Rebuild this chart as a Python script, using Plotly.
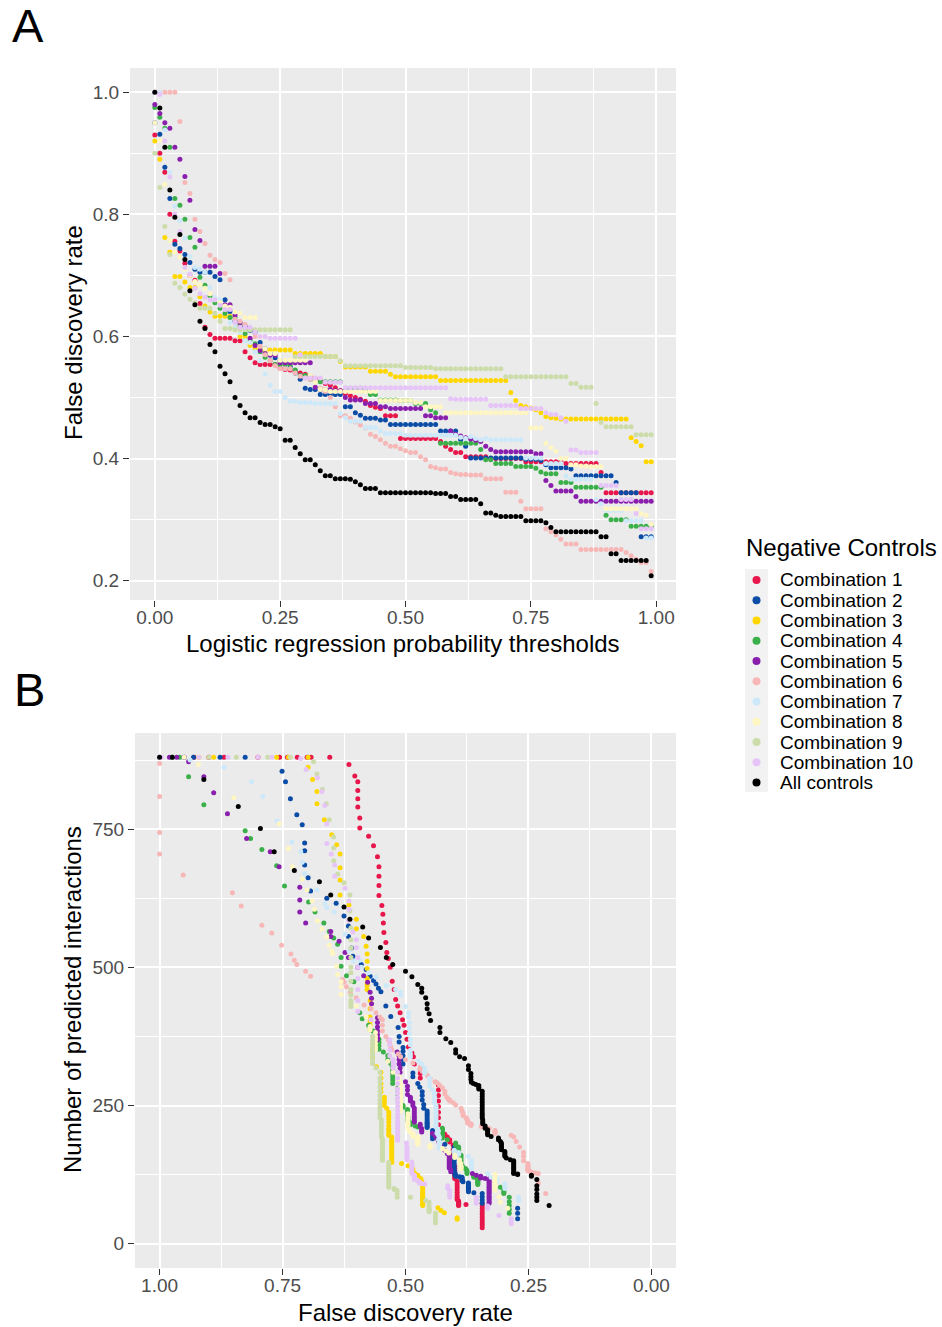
import plotly.graph_objects as go

W, H = 942, 1327

thresholds = [
0.00, 0.01, 0.02, 0.03, 0.04, 0.05, 0.06, 0.07, 0.08, 0.09,
0.10, 0.11, 0.12, 0.13, 0.14, 0.15, 0.16, 0.17, 0.18, 0.19,
0.20, 0.21, 0.22, 0.23, 0.24, 0.25, 0.26, 0.27, 0.28, 0.29,
0.30, 0.31, 0.32, 0.33, 0.34, 0.35, 0.36, 0.37, 0.38, 0.39,
0.40, 0.41, 0.42, 0.43, 0.44, 0.45, 0.46, 0.47, 0.48, 0.49,
0.50, 0.51, 0.52, 0.53, 0.54, 0.55, 0.56, 0.57, 0.58, 0.59,
0.60, 0.61, 0.62, 0.63, 0.64, 0.65, 0.66, 0.67, 0.68, 0.69,
0.70, 0.71, 0.72, 0.73, 0.74, 0.75, 0.76, 0.77, 0.78, 0.79,
0.80, 0.81, 0.82, 0.83, 0.84, 0.85, 0.86, 0.87, 0.88, 0.89,
0.90, 0.91, 0.92, 0.93, 0.94, 0.95, 0.96, 0.97, 0.98, 0.99]

labels = ["Combination 1", "Combination 2", "Combination 3", "Combination 4",
          "Combination 5", "Combination 6", "Combination 7", "Combination 8",
          "Combination 9", "Combination 10", "All controls"]

colors = ["#E8174B", "#0A4CA6", "#FFD700", "#3BB04A", "#8A1FAD", "#F7B7B7",
          "#CDE9F9", "#FFF6C2", "#CCDCAA", "#E6C4F8", "#000000"]

# ---- False discovery rate at each threshold ----
fdr_comb1 = [
0.93, 0.90, 0.869, 0.80, 0.756, 0.74, 0.72, 0.70, 0.692, 0.654,
0.615, 0.603, 0.597, 0.597, 0.597, 0.597, 0.593, 0.593, 0.575, 0.565,
0.557, 0.554, 0.554, 0.554, 0.554, 0.548, 0.546, 0.545, 0.544, 0.54,
0.538, 0.535, 0.531, 0.527, 0.523, 0.52, 0.516, 0.511, 0.506, 0.503,
0.50, 0.497, 0.494, 0.487, 0.484, 0.482, 0.47, 0.47, 0.47, 0.433,
0.433, 0.433, 0.433, 0.433, 0.433, 0.433, 0.433, 0.428, 0.42, 0.415,
0.41, 0.41, 0.403, 0.403, 0.403, 0.403, 0.403, 0.40, 0.40, 0.40,
0.40, 0.40, 0.40, 0.40, 0.395, 0.395, 0.395, 0.395, 0.395, 0.395,
0.395, 0.395, 0.392, 0.392, 0.392, 0.392, 0.392, 0.392, 0.392, 0.377,
0.344, 0.344, 0.344, 0.344, 0.344, 0.344, 0.344, 0.344, 0.344, 0.344]

fdr_comb2 = [
0.95, 0.931, 0.877, 0.826, 0.751, 0.744, 0.734, 0.721, 0.71, 0.705,
0.705, 0.705, 0.698, 0.693, 0.66, 0.641, 0.625, 0.616, 0.616, 0.61,
0.607, 0.59, 0.58, 0.572, 0.565, 0.56, 0.555, 0.55, 0.54, 0.53,
0.515, 0.513, 0.513, 0.505, 0.505, 0.505, 0.505, 0.505, 0.485, 0.485,
0.475, 0.471, 0.466, 0.466, 0.466, 0.463, 0.463, 0.456, 0.456, 0.456,
0.456, 0.456, 0.456, 0.456, 0.456, 0.456, 0.456, 0.445, 0.445, 0.445,
0.445, 0.431, 0.42, 0.401, 0.401, 0.401, 0.401, 0.401, 0.401, 0.401,
0.401, 0.401, 0.401, 0.401, 0.399, 0.399, 0.399, 0.397, 0.39, 0.385,
0.385, 0.385, 0.385, 0.383, 0.372, 0.372, 0.372, 0.372, 0.372, 0.372,
0.372, 0.372, 0.361, 0.344, 0.344, 0.344, 0.344, 0.272, 0.272, 0.272]

fdr_comb3 = [
0.92, 0.89, 0.762, 0.738, 0.698, 0.698, 0.689, 0.68, 0.68, 0.665,
0.65, 0.64, 0.633, 0.633, 0.633, 0.633, 0.615, 0.60, 0.60, 0.585,
0.58, 0.578, 0.578, 0.578, 0.578, 0.578, 0.578, 0.578, 0.572, 0.572,
0.572, 0.572, 0.572, 0.572, 0.567, 0.567, 0.567, 0.559, 0.55, 0.55,
0.55, 0.55, 0.55, 0.543, 0.543, 0.543, 0.543, 0.538, 0.534, 0.534,
0.534, 0.534, 0.534, 0.534, 0.534, 0.534, 0.534, 0.528, 0.528, 0.528,
0.528, 0.528, 0.528, 0.528, 0.528, 0.528, 0.528, 0.528, 0.528, 0.528,
0.528, 0.508, 0.495, 0.487, 0.485, 0.483, 0.48, 0.475, 0.469, 0.467,
0.466, 0.465, 0.465, 0.465, 0.465, 0.465, 0.465, 0.465, 0.465, 0.465,
0.465, 0.465, 0.465, 0.465, 0.465, 0.434, 0.428, 0.421, 0.395, 0.395]

fdr_comb4 = [
0.975, 0.959, 0.941, 0.91, 0.826, 0.815, 0.792, 0.762, 0.746, 0.697,
0.684, 0.666, 0.655, 0.646, 0.638, 0.631, 0.631, 0.62, 0.605, 0.593,
0.588, 0.575, 0.566, 0.56, 0.554, 0.554, 0.554, 0.554, 0.545, 0.536,
0.536, 0.53, 0.526, 0.526, 0.526, 0.526, 0.526, 0.526, 0.515, 0.515,
0.515, 0.515, 0.511, 0.505, 0.505, 0.496, 0.496, 0.496, 0.496, 0.495,
0.495, 0.495, 0.49, 0.49, 0.49, 0.48, 0.475, 0.425, 0.425, 0.425,
0.425, 0.425, 0.425, 0.425, 0.425, 0.415, 0.398, 0.398, 0.392, 0.392,
0.392, 0.392, 0.387, 0.387, 0.387, 0.387, 0.384, 0.378, 0.375, 0.375,
0.375, 0.361, 0.361, 0.361, 0.353, 0.353, 0.353, 0.353, 0.353, 0.353,
0.307, 0.30, 0.30, 0.30, 0.30, 0.289, 0.289, 0.289, 0.289, 0.289]

fdr_comb5 = [
0.98, 0.965, 0.95, 0.941, 0.91, 0.89, 0.862, 0.823, 0.775, 0.757,
0.715, 0.715, 0.715, 0.703, 0.652, 0.652, 0.635, 0.623, 0.616, 0.597,
0.585, 0.577, 0.572, 0.569, 0.569, 0.557, 0.557, 0.557, 0.557, 0.557,
0.557, 0.557, 0.517, 0.513, 0.513, 0.513, 0.511, 0.511, 0.50, 0.496,
0.496, 0.496, 0.49, 0.49, 0.49, 0.485, 0.485, 0.482, 0.482, 0.482,
0.482, 0.482, 0.482, 0.482, 0.47, 0.47, 0.467, 0.467, 0.467, 0.445,
0.44, 0.437, 0.434, 0.432, 0.43, 0.428, 0.42, 0.415, 0.411, 0.411,
0.411, 0.411, 0.411, 0.411, 0.411, 0.411, 0.408, 0.408, 0.364, 0.356,
0.347, 0.347, 0.347, 0.347, 0.338, 0.33, 0.33, 0.33, 0.33, 0.33,
0.33, 0.33, 0.33, 0.33, 0.33, 0.33, 0.33, 0.33, 0.33, 0.33]

fdr_comb6 = [
1.0, 1.0, 1.0, 1.0, 1.0, 0.952, 0.852, 0.834, 0.792, 0.772,
0.752, 0.733, 0.726, 0.721, 0.703, 0.693, 0.628, 0.625, 0.62, 0.612,
0.60, 0.584, 0.57, 0.56, 0.552, 0.547, 0.547, 0.547, 0.54, 0.535,
0.532, 0.53, 0.528, 0.515, 0.51, 0.50, 0.485, 0.47, 0.47, 0.466,
0.46, 0.455, 0.45, 0.44, 0.436, 0.431, 0.425, 0.42, 0.42, 0.416,
0.413, 0.41, 0.41, 0.403, 0.398, 0.387, 0.385, 0.383, 0.383, 0.377,
0.375, 0.374, 0.374, 0.373, 0.373, 0.373, 0.367, 0.367, 0.367, 0.367,
0.345, 0.345, 0.345, 0.33, 0.318, 0.318, 0.318, 0.318, 0.285, 0.28,
0.275, 0.268, 0.26, 0.26, 0.26, 0.251, 0.251, 0.251, 0.251, 0.251,
0.251, 0.251, 0.251, 0.251, 0.246, 0.241, 0.235, 0.23, 0.23, 0.215]

fdr_comb7 = [
1.0, 1.0, 0.938, 0.869, 0.813, 0.79, 0.761, 0.731, 0.713, 0.71,
0.705, 0.68, 0.664, 0.66, 0.645, 0.623, 0.615, 0.606, 0.593, 0.59,
0.575, 0.56, 0.539, 0.52, 0.51, 0.51, 0.50, 0.494, 0.494, 0.492,
0.492, 0.492, 0.49, 0.49, 0.49, 0.49, 0.49, 0.474, 0.467, 0.461,
0.461, 0.461, 0.451, 0.451, 0.451, 0.445, 0.441, 0.441, 0.441, 0.441,
0.438, 0.438, 0.438, 0.438, 0.438, 0.438, 0.438, 0.438, 0.438, 0.438,
0.438, 0.435, 0.433, 0.436, 0.433, 0.431, 0.433, 0.431, 0.431, 0.431,
0.431, 0.431, 0.431, 0.431, 0.401, 0.401, 0.401, 0.401, 0.392, 0.392,
0.392, 0.392, 0.372, 0.366, 0.366, 0.366, 0.366, 0.366, 0.333, 0.326,
0.315, 0.315, 0.315, 0.315, 0.298, 0.298, 0.298, 0.298, 0.27, 0.27]

fdr_comb8 = [
0.95, 0.921, 0.849, 0.757, 0.738, 0.73, 0.71, 0.70, 0.69, 0.685,
0.679, 0.67, 0.66, 0.655, 0.65, 0.648, 0.64, 0.638, 0.631, 0.631,
0.631, 0.60, 0.58, 0.572, 0.572, 0.561, 0.561, 0.561, 0.561, 0.561,
0.561, 0.536, 0.525, 0.513, 0.513, 0.51, 0.51, 0.51, 0.51, 0.51,
0.51, 0.51, 0.51, 0.51, 0.51, 0.495, 0.495, 0.495, 0.495, 0.495,
0.495, 0.495, 0.492, 0.492, 0.485, 0.485, 0.485, 0.485, 0.475, 0.475,
0.475, 0.475, 0.475, 0.475, 0.475, 0.475, 0.475, 0.475, 0.475, 0.475,
0.475, 0.475, 0.475, 0.475, 0.475, 0.45, 0.45, 0.45, 0.425, 0.418,
0.412, 0.40, 0.40, 0.39, 0.39, 0.388, 0.388, 0.387, 0.387, 0.387,
0.318, 0.318, 0.318, 0.318, 0.318, 0.318, 0.318, 0.31, 0.307, 0.292]

fdr_comb9 = [
0.90, 0.844, 0.78, 0.734, 0.687, 0.68, 0.669, 0.661, 0.655, 0.646,
0.646, 0.646, 0.638, 0.625, 0.613, 0.613, 0.611, 0.611, 0.611, 0.611,
0.611, 0.611, 0.611, 0.611, 0.611, 0.611, 0.611, 0.611, 0.567, 0.567,
0.567, 0.567, 0.567, 0.567, 0.567, 0.567, 0.567, 0.56, 0.552, 0.552,
0.552, 0.552, 0.552, 0.552, 0.552, 0.552, 0.552, 0.552, 0.552, 0.552,
0.549, 0.549, 0.549, 0.549, 0.549, 0.549, 0.547, 0.547, 0.547, 0.547,
0.547, 0.547, 0.547, 0.547, 0.547, 0.547, 0.547, 0.547, 0.547, 0.547,
0.534, 0.534, 0.534, 0.534, 0.534, 0.534, 0.534, 0.534, 0.534, 0.534,
0.534, 0.534, 0.534, 0.523, 0.523, 0.517, 0.517, 0.517, 0.49, 0.459,
0.452, 0.452, 0.452, 0.452, 0.452, 0.452, 0.439, 0.439, 0.439, 0.439]

fdr_comb10 = [
1.0, 0.996, 0.92, 0.861, 0.80, 0.772, 0.713, 0.702, 0.679, 0.67,
0.664, 0.66, 0.66, 0.651, 0.644, 0.644, 0.623, 0.615, 0.615, 0.615,
0.607, 0.60, 0.60, 0.597, 0.597, 0.597, 0.597, 0.597, 0.597, 0.57,
0.532, 0.532, 0.532, 0.532, 0.525, 0.525, 0.525, 0.525, 0.516, 0.516,
0.516, 0.516, 0.516, 0.516, 0.516, 0.516, 0.516, 0.516, 0.516, 0.516,
0.516, 0.516, 0.516, 0.516, 0.516, 0.516, 0.516, 0.516, 0.516, 0.498,
0.497, 0.497, 0.497, 0.497, 0.497, 0.497, 0.497, 0.487, 0.487, 0.487,
0.487, 0.487, 0.487, 0.482, 0.482, 0.482, 0.482, 0.482, 0.475, 0.472,
0.472, 0.467, 0.461, 0.414, 0.414, 0.41, 0.41, 0.41, 0.41, 0.356,
0.356, 0.356, 0.356, 0.333, 0.333, 0.333, 0.31, 0.285, 0.285, 0.285]

fdr_all = [
1.0, 0.974, 0.91, 0.84, 0.795, 0.767, 0.726, 0.675, 0.652, 0.625,
0.613, 0.587, 0.575, 0.551, 0.539, 0.526, 0.50, 0.487, 0.475, 0.467,
0.467, 0.459, 0.456, 0.456, 0.452, 0.449, 0.43, 0.43, 0.418, 0.408,
0.398, 0.398, 0.39, 0.38, 0.372, 0.372, 0.367, 0.367, 0.367, 0.366,
0.362, 0.357, 0.351, 0.351, 0.351, 0.344, 0.344, 0.344, 0.344, 0.344,
0.344, 0.344, 0.344, 0.344, 0.344, 0.344, 0.343, 0.343, 0.343, 0.338,
0.338, 0.333, 0.333, 0.333, 0.333, 0.326, 0.311, 0.311, 0.307, 0.305,
0.305, 0.305, 0.305, 0.305, 0.298, 0.298, 0.298, 0.298, 0.295, 0.287,
0.28, 0.28, 0.28, 0.28, 0.28, 0.28, 0.28, 0.28, 0.28, 0.272,
0.272, 0.244, 0.244, 0.233, 0.233, 0.233, 0.233, 0.233, 0.233, 0.208]

# ---- Number of predicted interactions at each threshold ----
count_comb1 = [
880, 880, 880, 880, 880, 880, 880, 880, 880, 880,
867, 846, 836, 820, 805, 790, 770, 752, 737, 720,
700, 682, 665, 648, 630, 612, 596, 580, 563, 545,
527, 516, 500, 475, 460, 442, 430, 418, 405, 395,
382, 370, 356, 345, 338, 325, 315, 308, 300, 287,
278, 268, 258, 248, 238, 228, 215, 205, 198, 193,
188, 184, 178, 170, 162, 154, 146, 140, 136, 133,
130, 126, 122, 118, 113, 108, 103, 98, 93, 88,
84, 80, 77, 75, 73, 72, 71, 70, 69, 71,
73, 68, 63, 58, 53, 48, 43, 38, 34, 29]

count_comb2 = [
880, 880, 880, 880, 855, 836, 805, 776, 758, 725,
711, 685, 662, 638, 625, 616, 593, 575, 556, 535,
520, 505, 496, 484, 476, 470, 462, 456, 430, 411,
391, 375, 365, 355, 348, 340, 333, 325, 309, 302,
290, 283, 275, 268, 260, 252, 245, 240, 236, 232,
228, 224, 220, 218, 215, 212, 210, 205, 200, 195,
190, 187, 180, 175, 170, 165, 160, 155, 150, 145,
140, 135, 132, 129, 127, 125, 123, 122, 121, 120,
118, 116, 114, 112, 110, 107, 104, 101, 100, 98,
96, 94, 92, 91, 85, 79, 73, 64, 55, 45]

count_comb3 = [
880, 880, 880, 880, 880, 862, 840, 818, 796, 767,
740, 722, 705, 680, 658, 631, 613, 587, 570, 556,
538, 524, 511, 498, 480, 472, 467, 460, 440, 425,
410, 402, 395, 387, 356, 347, 338, 320, 310, 300,
290, 282, 275, 265, 260, 256, 250, 245, 238, 232,
226, 220, 214, 208, 205, 200, 196, 193, 190, 186,
183, 180, 176, 172, 168, 164, 160, 156, 152, 149,
147, 145, 141, 138, 134, 129, 126, 124, 118, 113,
109, 104, 100, 96, 93, 90, 87, 84, 81, 78,
76, 74, 72, 70, 69, 65, 60, 56, 47, 44]

count_comb4 = [
880, 880, 845, 794, 747, 733, 713, 684, 647, 618,
600, 580, 565, 553, 542, 518, 502, 485, 474, 418,
407, 395, 385, 378, 370, 364, 358, 352, 347, 340,
333, 326, 320, 314, 308, 302, 296, 290, 282, 276,
269, 262, 255, 250, 247, 243, 240, 236, 233, 229,
225, 222, 219, 216, 215, 213, 211, 209, 206, 203,
200, 198, 196, 194, 191, 188, 182, 178, 175, 172,
169, 166, 160, 155, 150, 145, 140, 136, 133, 130,
127, 124, 122, 120, 117, 115, 113, 111, 109, 107,
102, 99, 96, 93, 91, 84, 76, 69, 62, 55]

count_comb5 = [
880, 880, 880, 872, 845, 816, 778, 733, 709, 682,
645, 622, 600, 580, 565, 556, 547, 527, 518, 500,
485, 473, 455, 444, 434, 409, 400, 392, 385, 378,
372, 369, 347, 340, 333, 325, 318, 310, 293, 285,
278, 270, 265, 262, 258, 255, 250, 245, 240, 235,
230, 226, 222, 220, 216, 212, 208, 205, 202, 200,
196, 192, 188, 184, 180, 175, 169, 163, 158, 155,
152, 149, 146, 143, 140, 137, 134, 130, 127, 124,
122, 121, 120, 119, 118, 117, 114, 111, 108, 105,
102, 99, 96, 93, 90, 86, 83, 80, 76, 73]

count_comb6 = [
880, 869, 809, 744, 705, 667, 635, 611, 576, 562,
540, 524, 513, 505, 493, 484, 478, 473, 465, 455,
445, 432, 425, 418, 410, 405, 395, 385, 375, 369,
362, 356, 351, 343, 338, 333, 327, 320, 316, 312,
309, 304, 299, 293, 291, 287, 282, 276, 271, 265,
262, 260, 258, 255, 251, 245, 240, 236, 232, 228,
225, 223, 221, 220, 219, 218, 217, 216, 215, 214,
213, 212, 211, 209, 205, 203, 202, 200, 196, 193,
185, 175, 165, 158, 150, 145, 142, 140, 138, 136,
135, 134, 133, 132, 130, 129, 128, 127, 110, 91]

count_comb7 = [
880, 880, 875, 862, 836, 809, 765, 727, 709, 690,
670, 640, 615, 608, 600, 560, 530, 511, 513, 500,
490, 482, 467, 460, 455, 450, 429, 418, 410, 400,
390, 380, 370, 360, 350, 343, 338, 330, 325, 318,
312, 309, 300, 292, 285, 278, 272, 266, 260, 255,
250, 247, 244, 240, 236, 232, 228, 224, 220, 216,
212, 208, 204, 200, 196, 192, 188, 185, 182, 180,
178, 176, 174, 172, 169, 168, 167, 166, 165, 164,
163, 162, 158, 150, 145, 141, 138, 136, 127, 120,
118, 116, 113, 111, 108, 105, 103, 100, 84, 78]

count_comb8 = [
880, 867, 807, 760, 715, 682, 660, 640, 620, 605,
584, 570, 555, 540, 530, 525, 502, 487, 474, 465,
451, 430, 410, 393, 387, 382, 375, 369, 362, 356,
351, 330, 310, 302, 295, 290, 284, 278, 272, 266,
260, 255, 250, 245, 240, 235, 230, 226, 222, 218,
214, 210, 206, 203, 200, 198, 196, 194, 193, 192,
191, 190, 189, 188, 187, 186, 185, 184, 184, 183,
183, 182, 182, 181, 180, 178, 176, 174, 172, 168,
164, 160, 156, 152, 148, 145, 142, 140, 138, 135,
125, 120, 115, 111, 106, 101, 96, 85, 75, 64]

count_comb9 = [
880, 880, 880, 880, 872, 850, 822, 796, 767, 736,
716, 693, 669, 653, 631, 602, 571, 550, 535, 518,
500, 490, 475, 460, 450, 440, 435, 429, 375, 368,
362, 356, 351, 345, 340, 333, 326, 318, 310, 300,
292, 284, 276, 268, 260, 253, 246, 240, 234, 228,
224, 218, 212, 206, 200, 194, 189, 185, 182, 179,
176, 173, 170, 167, 164, 161, 158, 155, 153, 151,
147, 143, 139, 135, 131, 127, 123, 119, 115, 111,
108, 105, 102, 100, 98, 96, 90, 84, 84, 78,
75, 70, 65, 62, 60, 58, 55, 50, 44, 38]

count_comb10 = [
880, 880, 880, 880, 880, 880, 878, 858, 843, 818,
793, 760, 724, 705, 685, 665, 643, 620, 605, 585,
564, 550, 536, 518, 500, 480, 460, 440, 420, 405,
369, 360, 350, 340, 333, 328, 324, 318, 310, 300,
290, 280, 272, 264, 256, 248, 241, 234, 228, 222,
218, 214, 210, 206, 202, 198, 194, 190, 187, 182,
175, 171, 167, 164, 160, 156, 152, 148, 144, 140,
136, 131, 127, 124, 122, 120, 118, 116, 114, 112,
110, 109, 108, 105, 100, 96, 92, 88, 84, 84,
80, 76, 73, 68, 66, 64, 51, 45, 40, 36]

count_all = [
880, 880, 840, 791, 751, 709, 675, 655, 631, 609,
587, 573, 553, 536, 518, 505, 493, 483, 469, 462,
455, 445, 434, 425, 416, 404, 391, 382, 371, 364,
351, 345, 338, 335, 322, 315, 308, 302, 297, 292,
290, 288, 286, 283, 280, 276, 271, 266, 261, 256,
251, 246, 241, 236, 232, 228, 224, 220, 217, 213,
209, 206, 203, 200, 197, 194, 191, 188, 185, 182,
179, 176, 173, 170, 167, 164, 161, 158, 155, 152,
150, 147, 144, 141, 138, 135, 132, 129, 127, 126,
125, 124, 122, 116, 105, 98, 90, 84, 78, 69]

fdr_series = [fdr_comb1, fdr_comb2, fdr_comb3, fdr_comb4, fdr_comb5, fdr_comb6,
              fdr_comb7, fdr_comb8, fdr_comb9, fdr_comb10, fdr_all]
count_series = [count_comb1, count_comb2, count_comb3, count_comb4, count_comb5,
                count_comb6, count_comb7, count_comb8, count_comb9, count_comb10,
                count_all]

for f, c in zip(fdr_series, count_series):
    assert len(f) == len(thresholds) and len(c) == len(thresholds), (len(f), len(c))

FONT = "Liberation Sans, Arial, Helvetica, sans-serif"
TICK_COLOR = "#4D4D4D"
MS = 5


def px_x(x):
    return x / W


def px_y(y):
    return 1 - y / H


fig = go.Figure()

for lab, col, f, c in zip(labels, colors, fdr_series, count_series):
    fig.add_trace(go.Scatter(x=thresholds, y=f, mode="markers", name=lab,
                             marker=dict(color=col, size=MS, line=dict(width=0)),
                             xaxis="x", yaxis="y", showlegend=False))
for lab, col, f, c in zip(labels, colors, fdr_series, count_series):
    fig.add_trace(go.Scatter(x=f, y=c, mode="markers", name=lab,
                             marker=dict(color=col, size=MS, line=dict(width=0)),
                             xaxis="x2", yaxis="y2", showlegend=False))

axis_common = dict(showline=False, zeroline=False, showgrid=True,
                   gridcolor="white", gridwidth=2.2,
                   ticks="outside", ticklen=6, tickwidth=1.2, tickcolor="#333333",
                   tickfont=dict(family=FONT, size=19, color=TICK_COLOR))

fig.update_layout(
    width=W, height=H, autosize=False,
    margin=dict(l=0, r=0, t=0, b=0),
    paper_bgcolor="white", plot_bgcolor="#EBEBEB",
    font=dict(family=FONT),
    xaxis=dict(domain=[px_x(130), px_x(676)], anchor="y",
               range=[-0.0495, 1.0395],
               tickvals=[0, 0.25, 0.5, 0.75, 1.0],
               ticktext=["0.00", "0.25", "0.50", "0.75", "1.00"],
               ticklabelstandoff=-6,
               minor=dict(tick0=0.125, dtick=0.25, showgrid=True,
                          gridcolor="white", gridwidth=1.1, ticks=""),
               **axis_common),
    yaxis=dict(domain=[px_y(600), px_y(68)], anchor="x",
               range=[0.1684, 1.0396],
               tickvals=[0.2, 0.4, 0.6, 0.8, 1.0],
               ticktext=["0.2", "0.4", "0.6", "0.8", "1.0"],
               minor=dict(tick0=0.3, dtick=0.2, showgrid=True,
                          gridcolor="white", gridwidth=1.1, ticks=""),
               **axis_common),
    xaxis2=dict(domain=[px_x(135), px_x(676)], anchor="y2",
                range=[1.05, -0.05],
                tickvals=[1.0, 0.75, 0.5, 0.25, 0.0],
                ticktext=["1.00", "0.75", "0.50", "0.25", "0.00"],
                ticklabelstandoff=-6,
                minor=dict(tick0=0.125, dtick=0.25, showgrid=True,
                           gridcolor="white", gridwidth=1.1, ticks=""),
                **axis_common),
    yaxis2=dict(domain=[px_y(1268), px_y(733)], anchor="x2",
                range=[-44, 924],
                tickvals=[0, 250, 500, 750],
                ticktext=["0", "250", "500", "750"],
                minor=dict(tick0=125, dtick=250, showgrid=True,
                           gridcolor="white", gridwidth=1.1, ticks=""),
                **axis_common),
)

ann = []
title_font = dict(family=FONT, size=24, color="black")
ann.append(dict(text="Logistic regression probability thresholds", x=px_x(403), y=px_y(643),
                xref="paper", yref="paper", xanchor="center", yanchor="middle",
                showarrow=False, font=title_font))
ann.append(dict(text="False discovery rate", x=px_x(73), y=px_y(333), textangle=-90,
                xref="paper", yref="paper", xanchor="center", yanchor="middle",
                showarrow=False, font=title_font))
ann.append(dict(text="False discovery rate", x=px_x(405), y=px_y(1312),
                xref="paper", yref="paper", xanchor="center", yanchor="middle",
                showarrow=False, font=title_font))
ann.append(dict(text="Number of predicted interactions", x=px_x(72), y=px_y(1000),
                textangle=-90, xref="paper", yref="paper", xanchor="center",
                yanchor="middle", showarrow=False, font=title_font))
ann.append(dict(text="A", x=px_x(10), y=px_y(25), xref="paper", yref="paper",
                xanchor="left", yanchor="middle", showarrow=False,
                font=dict(family=FONT, size=47, color="black")))
ann.append(dict(text="B", x=px_x(12), y=px_y(689), xref="paper", yref="paper",
                xanchor="left", yanchor="middle", showarrow=False,
                font=dict(family=FONT, size=47, color="black")))

# legend (drawn manually to match ggplot spacing)
ann.append(dict(text="Negative Controls", x=px_x(744), y=px_y(547), xref="paper",
                yref="paper", xanchor="left", yanchor="middle", showarrow=False,
                font=title_font))
shapes = [dict(type="rect", xref="paper", yref="paper",
               x0=px_x(745), x1=px_x(768), y0=px_y(792), y1=px_y(569),
               fillcolor="#F2F2F2", line=dict(width=0), layer="below")]
for i, (lab, col) in enumerate(zip(labels, colors)):
    yc = 580 + 20.25 * i
    r = 4
    shapes.append(dict(type="circle", xref="paper", yref="paper",
                       x0=px_x(756.5 - r), x1=px_x(756.5 + r),
                       y0=px_y(yc + r), y1=px_y(yc - r),
                       fillcolor=col, line=dict(width=0)))
    ann.append(dict(text=lab, x=px_x(778), y=px_y(yc), xref="paper", yref="paper",
                    xanchor="left", yanchor="middle", showarrow=False,
                    font=dict(family=FONT, size=19, color="black")))

fig.update_layout(annotations=ann, shapes=shapes)

fig.write_html("out.html")
